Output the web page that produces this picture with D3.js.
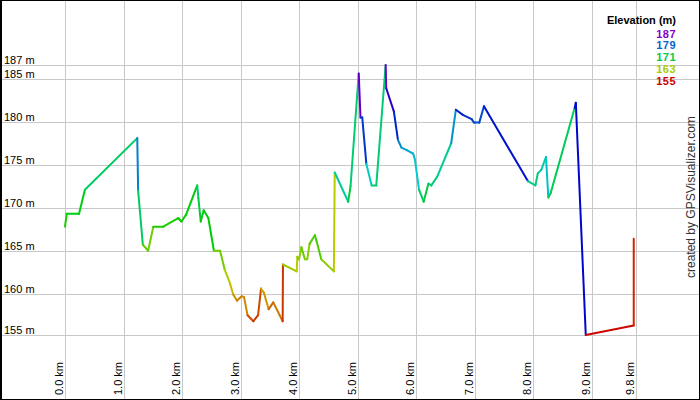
<!DOCTYPE html>
<html>
<head>
<meta charset="utf-8">
<script src="https://cdn.jsdelivr.net/npm/d3@7"></script>
<style>
  body { margin: 0; background: #fff; }
  svg { display: block; font-family: "Liberation Sans", Arial, sans-serif; }
</style>
</head>
<body>
<div class="chart"></div>
<script>
// distance along the track (km) and elevation (m)
const distKm = [
    0.00, 0.03, 0.24, 0.34, 1.235, 1.25, 1.33, 1.42, 1.51, 1.68,
    1.935, 1.99, 2.07, 2.26, 2.28, 2.32, 2.37, 2.45, 2.545, 2.65,
    2.73, 2.82, 2.875, 2.94, 3.02, 3.06, 3.12, 3.22, 3.30, 3.35,
    3.40, 3.48, 3.56, 3.72, 3.725, 3.96, 3.97, 4.00, 4.04, 4.10,
    4.14, 4.18, 4.27, 4.30, 4.38, 4.595, 4.61, 4.84, 4.88, 5.02,
    5.05, 5.08, 5.15, 5.24, 5.32, 5.48, 5.49, 5.62, 5.69, 5.75,
    5.84, 5.95, 5.98, 6.05, 6.13, 6.21, 6.26, 6.36, 6.60, 6.68,
    6.80, 6.95, 6.99, 7.08, 7.16, 7.91, 8.04, 8.08, 8.14, 8.22,
    8.26, 8.30, 8.71, 8.73, 8.90, 9.72, 9.72
];
const elevM = [
    167.8, 169.3, 169.3, 172.1, 178.1, 172.0, 165.7, 165.0, 167.8, 167.8,
    168.8, 168.4, 169.2, 172.6, 171.1, 168.4, 169.7, 168.8, 165.0, 165.0,
    162.8, 161.2, 159.9, 159.2, 159.7, 159.6, 157.5, 156.8, 157.5, 160.6,
    160.1, 158.2, 159.0, 156.8, 163.4, 162.6, 164.3, 164.0, 165.4, 164.0,
    164.0, 165.8, 166.8, 166.1, 164.0, 162.6, 174.1, 170.7, 172.5, 185.6,
    180.5, 180.5, 175.1, 172.6, 172.6, 186.6, 183.9, 181.2, 177.9, 177.0,
    176.7, 176.3, 175.6, 172.1, 170.7, 172.8, 172.6, 173.6, 177.5, 181.4,
    180.8, 180.3, 179.9, 179.9, 181.8, 173.1, 172.6, 174.0, 174.4, 175.9,
    171.2, 171.7, 181.6, 182.2, 155.2, 156.3, 166.4
];

const totalKm = 9.75;
const xTickValues = [0, 1, 2, 3, 4, 5, 6, 7, 8, 9, totalKm];
const xTickLabels = ["0.0 km", "1.0 km", "2.0 km", "3.0 km", "4.0 km", "5.0 km",
                     "6.0 km", "7.0 km", "8.0 km", "9.0 km", "9.8 km"];
const yInnerTicks = [160, 165, 170, 175, 180, 185];
const legendValues = [187, 179, 171, 163, 155];

const width = 700, height = 400;

const svg = d3.select('.chart')
    .append('svg')
    .attr('width', width)
    .attr('height', height);

const elevExtent = d3.extent(elevM);

const x = d3.scaleLinear().domain([0, totalKm]).range([65, 635.5]);
const y = d3.scaleLinear().domain(elevExtent).range([335, 65]);

// hue runs red -> yellow -> green -> blue -> purple across the legend range
const hue = d3.scaleLinear().domain([155, 187]).range([0, 280]);
const colour = e => d3.hsl(hue(e), 1, 0.4).formatHex();

// grid
const yTickValues = [elevExtent[0]].concat(yInnerTicks, [elevExtent[1]]);

svg.append('g')
    .selectAll('line')
    .data(yTickValues)
    .enter()
    .append('line')
    .attr('x1', 0)
    .attr('x2', width)
    .attr('y1', d => Math.round(y(d)) + 0.5)
    .attr('y2', d => Math.round(y(d)) + 0.5)
    .attr('stroke', '#c8c8c8')
    .attr('stroke-width', 1);

svg.append('g')
    .selectAll('line')
    .data(xTickValues)
    .enter()
    .append('line')
    .attr('x1', d => Math.round(x(d)) + 0.5)
    .attr('x2', d => Math.round(x(d)) + 0.5)
    .attr('y1', 0)
    .attr('y2', height)
    .attr('stroke', '#c8c8c8')
    .attr('stroke-width', 1);

// y labels sit just above their grid line
svg.append('g')
    .selectAll('text')
    .data(yTickValues)
    .enter()
    .append('text')
    .attr('x', 4)
    .attr('y', d => Math.round(y(d)) - 1)
    .attr('font-size', 11)
    .attr('fill', '#000')
    .text(d => Math.round(d) + ' m');

// x labels, rotated, left of their grid line
svg.append('g')
    .selectAll('text')
    .data(xTickValues)
    .enter()
    .append('text')
    .attr('transform', d => `translate(${Math.round(x(d)) - 2},395) rotate(-90)`)
    .attr('font-size', 11)
    .attr('fill', '#000')
    .text((d, i) => xTickLabels[i]);

// profile, each segment coloured by the elevation where it starts
const pts = distKm.map((d, i) => ({ km: d, e: elevM[i] }));
const segs = d3.pairs(pts);

svg.append('g')
    .selectAll('line')
    .data(segs)
    .enter()
    .append('line')
    .attr('x1', d => x(d[0].km))
    .attr('y1', d => y(d[0].e))
    .attr('x2', d => x(d[1].km))
    .attr('y2', d => y(d[1].e))
    .attr('stroke', d => colour(d[0].e))
    .attr('stroke-width', 2)
    .attr('stroke-linecap', 'round');

// legend
const legend = svg.append('g').attr('font-weight', 'bold').attr('font-size', 11);

legend.append('text')
    .attr('x', 676)
    .attr('y', 24)
    .attr('text-anchor', 'end')
    .attr('fill', '#000')
    .text('Elevation (m)');

legend.selectAll('.lv')
    .data(legendValues)
    .enter()
    .append('text')
    .attr('class', 'lv')
    .attr('x', 676)
    .attr('y', (d, i) => 37.5 + i * 11.8)
    .attr('text-anchor', 'end')
    .attr('letter-spacing', 0.5)
    .attr('fill', d => colour(d))
    .text(d => d);

// credit
svg.append('text')
    .attr('transform', 'translate(695,278) rotate(-90)')
    .attr('font-size', 12)
    .attr('fill', '#333')
    .text('created by GPSVisualizer.com');

// frame
svg.append('rect')
    .attr('x', 0)
    .attr('y', 0)
    .attr('width', width)
    .attr('height', height)
    .attr('fill', 'none')
    .attr('stroke', '#000')
    .attr('stroke-width', 2);

svg.append('line')
    .attr('x1', 1.5).attr('x2', 1.5)
    .attr('y1', 0).attr('y2', height)
    .attr('stroke', '#000')
    .attr('stroke-width', 1);
</script>
</body>
</html>
